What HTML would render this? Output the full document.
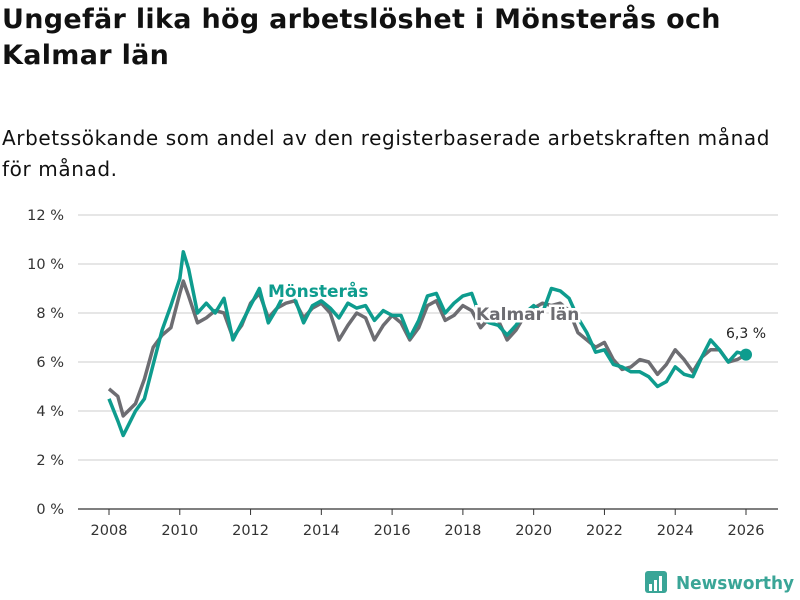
<!DOCTYPE html>
<html><head><meta charset="utf-8"><style>
body{margin:0;width:800px;height:600px;background:#fff;font-family:"DejaVu Sans","Liberation Sans",sans-serif;color:#111;overflow:hidden;position:relative}
h1{position:absolute;left:2px;top:2px;margin:0;font-size:27px;line-height:36px;font-weight:bold;width:798px;letter-spacing:0.3px;white-space:nowrap}
.sub{position:absolute;left:2px;top:123px;margin:0;font-size:20px;line-height:31px;width:798px;letter-spacing:0.6px;white-space:nowrap}
svg{position:absolute;left:0;top:0}
</style></head><body>
<h1>Ungefär lika hög arbetslöshet i Mönsterås och<br>Kalmar län</h1>
<p class="sub">Arbetssökande som andel av den registerbaserade arbetskraften månad<br>för månad.</p>
<svg id="chart" width="800" height="600"></svg>
<script>
const years=[2008,2008.25,2008.4,2008.75,2009,2009.25,2009.5,2009.75,2010,2010.1,2010.25,2010.5,2010.75,2011,2011.25,2011.5,2011.75,2012,2012.25,2012.5,2012.75,2013,2013.25,2013.5,2013.75,2014,2014.25,2014.5,2014.75,2015,2015.25,2015.5,2015.75,2016,2016.25,2016.5,2016.75,2017,2017.25,2017.5,2017.75,2018,2018.25,2018.5,2018.75,2019,2019.25,2019.5,2019.75,2020,2020.25,2020.5,2020.75,2021,2021.25,2021.5,2021.75,2022,2022.25,2022.5,2022.75,2023,2023.25,2023.5,2023.75,2024,2024.25,2024.5,2024.75,2025,2025.25,2025.5,2025.75,2026];
const kalmar=[4.9,4.6,3.8,4.3,5.3,6.6,7.1,7.4,8.8,9.3,8.7,7.6,7.8,8.1,8.0,7.0,7.5,8.4,8.8,7.8,8.2,8.4,8.5,7.8,8.2,8.4,8.0,6.9,7.5,8.0,7.8,6.9,7.5,7.9,7.6,6.9,7.4,8.3,8.5,7.7,7.9,8.3,8.1,7.4,7.8,7.7,6.9,7.3,7.9,8.2,8.4,8.3,8.4,8.1,7.2,6.9,6.6,6.8,6.1,5.7,5.8,6.1,6.0,5.5,5.9,6.5,6.1,5.6,6.2,6.5,6.5,6.0,6.1,6.3];
const monsteras=[4.5,3.6,3.0,4.0,4.5,5.9,7.3,8.3,9.4,10.5,9.8,8.0,8.4,8.0,8.6,6.9,7.6,8.3,9.0,7.6,8.2,8.9,8.6,7.6,8.3,8.5,8.2,7.8,8.4,8.2,8.3,7.7,8.1,7.9,7.9,7.0,7.7,8.7,8.8,8.0,8.4,8.7,8.8,7.8,7.6,7.5,7.1,7.5,8.0,8.3,8.0,9.0,8.9,8.6,7.8,7.2,6.4,6.5,5.9,5.8,5.6,5.6,5.4,5.0,5.2,5.8,5.5,5.4,6.2,6.9,6.5,6.0,6.4,6.3];
const yTicks=[0,2,4,6,8,10,12];
const xTicks=[2008,2010,2012,2014,2016,2018,2020,2022,2024,2026];
const NS="http://www.w3.org/2000/svg";
const svg=document.getElementById('chart');
const xS=v=>109+(v-2008)*(746-109)/18;
const yS=v=>509-v*24.5;
function el(t,a,p){const e=document.createElementNS(NS,t);for(const k in a)e.setAttribute(k,a[k]);(p||svg).appendChild(e);return e;}
yTicks.forEach(t=>{
 const l=el('line',{x1:78,x2:778,y1:yS(t),y2:yS(t),stroke:t===0?'#333':'#ddd','stroke-width':t===0?1.2:1.5});
 
 
 const tx=el('text',{x:64,y:yS(t)+5,'text-anchor':'end','font-size':14.5,fill:'#333'});
 tx.textContent=t+' %';
 
 
});
xTicks.forEach(t=>{
 const l=el('line',{x1:xS(t),x2:xS(t),y1:509,y2:515,stroke:'#333'});
 
 
 const tx=el('text',{x:xS(t),y:535,'text-anchor':'middle','font-size':14.5,fill:'#333'});
 tx.textContent=t;
 
 
});
function line(vals,color,name){
 const d=vals.map((v,i)=>(i?'L':'M')+xS(years[i]).toFixed(1)+','+yS(v).toFixed(1)).join('');
 const p=el('path',{d:d,fill:'none',stroke:color,'stroke-width':3.5,'stroke-linejoin':'round'});
 
 
}
line(kalmar,'#6d6d72','line-kalmar-lan');
line(monsteras,'#0e9c8e','line-monsteras');
function label(x,y,txt,color,name){
 const t=el('text',{x:x,y:y,'font-size':17,'font-weight':'bold',fill:color,stroke:'#fff','stroke-width':5,'paint-order':'stroke'});
 t.textContent=txt;
 
 
}
label(268,297,'Mönsterås','#0e9c8e','label-monsteras');
label(476,320,'Kalmar län','#6d6d72','label-kalmar-lan');
const last=monsteras[monsteras.length-1];
const dot=el('circle',{cx:xS(years[years.length-1]),cy:yS(last),r:6,fill:'#0e9c8e'});


const lv=el('text',{x:746,y:338,'text-anchor':'middle','font-size':14,fill:'#222'});
lv.textContent=String(last).replace('.',',')+' %';


const g=el('g',{});


el('rect',{x:645,y:571,width:22,height:22,rx:3,fill:'#3aa597'},g);
[[649,584,3,7],[654,580,3,11],[659,576,3,15]].forEach(r=>el('rect',{x:r[0],y:r[1],width:r[2],height:r[3],fill:'#fff'},g));
const lt=el('text',{x:676,y:589,'font-size':18,'font-weight':'bold',fill:'#3aa597',textLength:118,lengthAdjust:'spacingAndGlyphs'},g);
lt.textContent='Newsworthy';
</script>
</body></html>
